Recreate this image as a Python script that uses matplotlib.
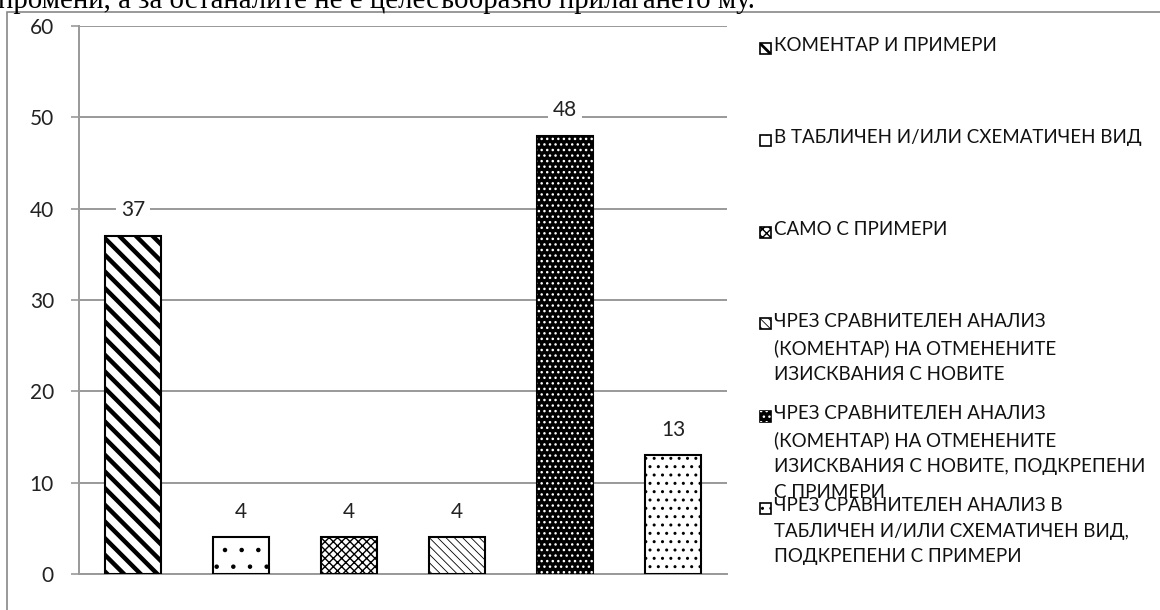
import matplotlib.pyplot as plt
import matplotlib.patches as mpatches
import numpy as np

plt.rcParams["font.family"] = ["Lato", "DejaVu Sans"]

labels = [
    "КОМЕНТАР И ПРИМЕРИ",
    "В ТАБЛИЧЕН И/ИЛИ СХЕМАТИЧЕН ВИД",
    "САМО С ПРИМЕРИ",
    "ЧРЕЗ СРАВНИТЕЛЕН АНАЛИЗ\n(КОМЕНТАР) НА ОТМЕНЕНИТЕ\nИЗИСКВАНИЯ С НОВИТЕ",
    "ЧРЕЗ СРАВНИТЕЛЕН АНАЛИЗ\n(КОМЕНТАР) НА ОТМЕНЕНИТЕ\nИЗИСКВАНИЯ С НОВИТЕ, ПОДКРЕПЕНИ\nС ПРИМЕРИ",
    "ЧРЕЗ СРАВНИТЕЛЕН АНАЛИЗ В\nТАБЛИЧЕН И/ИЛИ СХЕМАТИЧЕН ВИД,\nПОДКРЕПЕНИ С ПРИМЕРИ",
]
values = [37, 4, 4, 4, 48, 13]
yticks = [0, 10, 20, 30, 40, 50, 60]
top_text = "промени, а за останалите не е целесъобразно прилагането му."

# pattern, hatch linewidth, face colour, hatch colour
styles = [
    ("\\\\", 3.2, "white", "black"),
    (".", 0.8, "white", "black"),
    ("xxxx", 1.0, "white", "black"),
    ("\\\\\\\\", 0.6, "white", "black"),
    ("...", 1.0, "black", "white"),
    ("..", 1.0, "white", "black"),
]

grid_col = "#999999"
W, H = 1160, 610

fig = plt.figure(figsize=(11.6, 6.1), dpi=100)
ax = fig.add_axes([79 / W, 36 / H, 648 / W, 548 / H])

x = np.arange(len(values))
for i, v in enumerate(values):
    hatch, hlw, face, hcol = styles[i]
    plt.rcParams["hatch.linewidth"] = hlw
    b = ax.bar(x[i], v, width=0.52, color=face, edgecolor="black", linewidth=1.5, zorder=3)[0]
    if hcol == "black":
        b.set_hatch(hatch)
        if hasattr(b, "set_hatch_linewidth"):
            b.set_hatch_linewidth(hlw)
    else:
        ov = ax.bar(x[i], v, width=0.52, facecolor="none", edgecolor=hcol,
                    linewidth=0, hatch=hatch, zorder=4)[0]
        if hasattr(ov, "set_hatch_linewidth"):
            ov.set_hatch_linewidth(hlw)
    ax.annotate(str(v), (x[i], v), xytext=(0, 18.5), textcoords="offset points",
                ha="center", va="center", fontsize=15, color="#222222",
                bbox=dict(boxstyle="square,pad=0.25", fc="white", ec="none"), zorder=5)

ax.set_xlim(-0.5, 5.5)
ax.set_ylim(0, 60)
ax.set_yticks(yticks)
ax.set_xticks([])
ax.tick_params(axis="y", length=6, width=1.2, color=grid_col, pad=12, labelsize=15,
               labelcolor="#222222")
ax.yaxis.grid(True, color=grid_col, linewidth=1.4, zorder=0)
ax.set_axisbelow(True)
for s in ["top", "right"]:
    ax.spines[s].set_visible(False)
for s in ["left", "bottom"]:
    ax.spines[s].set_color(grid_col)
    ax.spines[s].set_linewidth(1.4)

# legend drawn by hand so the entries keep Excel's fixed spacing (and overlap)
for i, lab in enumerate(labels):
    yc = 48 + i * 92
    hatch, hlw, face, hcol = styles[i]
    plt.rcParams["hatch.linewidth"] = min(hlw, 2.0)
    box = (760 / W, 1 - (yc + 5.5) / H)
    sq = mpatches.Rectangle(box, 11 / W, 11 / H, transform=fig.transFigure,
                            facecolor=face, edgecolor="black", linewidth=1.2)
    fig.add_artist(sq)
    if hcol == "black":
        sq.set_hatch(hatch)
    else:
        ov = mpatches.Rectangle(box, 11 / W, 11 / H, transform=fig.transFigure,
                                facecolor="none", edgecolor=hcol, linewidth=0, hatch=hatch)
        fig.add_artist(ov)
    fig.text(774 / W, 1 - (yc - 11) / H, lab, fontsize=13.5, va="top", ha="left",
             linespacing=1.62, color="#111111")

# outer chart frame, running off the right and bottom of the picture
fig.add_artist(mpatches.Rectangle((7 / W, -0.2), 2, 1.2 - 11.5 / H, transform=fig.transFigure,
                                  fill=False, edgecolor="#888888", linewidth=1.2))

fig.text(-2 / W, 1 - 8 / H, top_text, fontsize=20.8, family="Liberation Serif",
         va="baseline", ha="left", color="black")

fig.savefig("out.png", dpi=100)
